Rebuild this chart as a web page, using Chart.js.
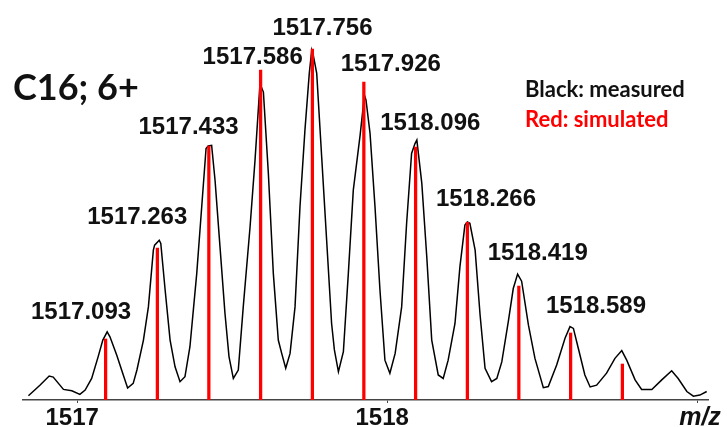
<!DOCTYPE html>
<html>
<head>
<meta charset="utf-8">
<script src="https://cdn.jsdelivr.net/npm/chart.js@4.4.1/dist/chart.umd.min.js"></script>
<style>
  html, body { margin: 0; padding: 0; background: #ffffff; }
  #wrap { width: 727px; height: 427px; }
</style>
</head>
<body>
<div id="wrap"><canvas id="c" width="727" height="427"></canvas></div>
<script>
// Measured profile of the C16 6+ isotope cluster (m/z, relative intensity)
const measuredMz = [1516.841, 1516.878, 1516.908, 1516.921, 1516.954, 1516.981, 1517.007, 1517.024, 1517.045, 1517.066,
  1517.081, 1517.095, 1517.104, 1517.126, 1517.147, 1517.161, 1517.179, 1517.191, 1517.212, 1517.228,
  1517.244, 1517.248, 1517.263, 1517.268, 1517.282, 1517.298, 1517.314, 1517.330, 1517.346, 1517.362,
  1517.384, 1517.400, 1517.414, 1517.421, 1517.432, 1517.443, 1517.459, 1517.475, 1517.488, 1517.502,
  1517.518, 1517.534, 1517.556, 1517.572, 1517.588, 1517.599, 1517.615, 1517.631, 1517.647, 1517.658,
  1517.671, 1517.685, 1517.701, 1517.717, 1517.733, 1517.747, 1517.755, 1517.760, 1517.771, 1517.787,
  1517.803, 1517.819, 1517.828, 1517.841, 1517.857, 1517.873, 1517.889, 1517.911, 1517.925, 1517.930,
  1517.943, 1517.959, 1517.975, 1517.991, 1518.007, 1518.024, 1518.045, 1518.061, 1518.077, 1518.088,
  1518.094, 1518.110, 1518.126, 1518.142, 1518.163, 1518.179, 1518.195, 1518.217, 1518.233, 1518.249,
  1518.257, 1518.265, 1518.282, 1518.298, 1518.314, 1518.335, 1518.352, 1518.368, 1518.389, 1518.405,
  1518.419, 1518.432, 1518.454, 1518.475, 1518.502, 1518.518, 1518.545, 1518.572, 1518.588, 1518.599,
  1518.615, 1518.636, 1518.653, 1518.674, 1518.706, 1518.733, 1518.755, 1518.771, 1518.798, 1518.819,
  1518.852, 1518.884, 1518.916, 1518.937, 1518.965, 1518.986, 1519.007, 1519.029];

const measuredIntensity = [1.2, 4.2, 6.8, 6.5, 3.0, 2.6, 1.6, 2.8, 6.1, 12.3,
  17.0, 19.3, 17.9, 12.7, 7.1, 3.4, 4.7, 8.5, 17.0, 26.4,
  42.5, 43.9, 45.3, 44.4, 31.2, 17.0, 9.4, 5.2, 6.6, 15.1,
  35.9, 54.8, 71.3, 72.0, 72.2, 62.3, 43.4, 24.6, 12.3, 6.1,
  8.5, 26.4, 49.1, 68.0, 89.7, 87.3, 64.2, 35.9, 17.0, 13.2,
  9.0, 13.2, 26.4, 54.8, 76.5, 92.6, 99.2, 97.7, 92.6, 68.9,
  45.3, 21.7, 14.2, 8.0, 13.7, 35.9, 59.5, 75.1, 86.4, 85.0,
  75.6, 54.8, 31.2, 11.3, 7.6, 13.2, 26.4, 50.1, 69.9, 72.7,
  73.7, 61.4, 40.6, 17.0, 7.1, 6.1, 11.3, 21.7, 37.8, 49.6,
  50.5, 50.1, 42.5, 24.1, 9.0, 5.2, 6.1, 10.8, 22.2, 31.6,
  35.7, 33.7, 21.2, 11.8, 3.5, 3.8, 9.9, 17.5, 20.8, 20.3,
  14.6, 7.1, 3.7, 4.2, 7.6, 11.8, 14.0, 11.3, 5.7, 3.0,
  3.0, 5.7, 8.3, 6.1, 2.4, 1.1, 1.4, 2.4];

// Simulated isotope pattern (stick spectrum)
const simulatedMz = [1517.090, 1517.257, 1517.423, 1517.590, 1517.757, 1517.923,
  1518.090, 1518.257, 1518.423, 1518.590, 1518.757];
const simulatedIntensity = [17.3, 43.1, 72.0, 93.5, 99.5, 90.1, 71.7, 50.4, 32.3, 19.0, 10.2];

// Annotated measured peak centroids
const peakLabels = ['1517.093', '1517.263', '1517.433', '1517.586', '1517.756',
  '1517.926', '1518.096', '1518.266', '1518.419', '1518.589'];

// Axis ticks
const tickValues = [1517, 1518, 1519];
const tickLabels = ['1517', '1518', ''];

const measuredPoints = measuredMz.map((x, i) => ({ x: x, y: measuredIntensity[i] }));
const simulatedPoints = simulatedMz.map((x, i) => ({ x: x, y: simulatedIntensity[i] }));

// Placement of each peak label (pixel offset of the text centre from the peak top)
const labelPlacement = [[-25.5, -21.7], [-22, -24.5], [-23.4, -20], [-6.7, -28.3], [10.4, -23.3],
  [26, -33.3], [12.8, -18.3], [15.8, -24.2], [20.1, -22.3], [25.7, -22.2]];

const annotations = {
  id: 'spectrumText',
  afterDraw(chart) {
    const ctx = chart.ctx;
    const xs = chart.scales.x;
    const ys = chart.scales.y;
    ctx.save();

    // peak labels, anchored on the measured maximum next to each value
    ctx.fillStyle = '#111';
    ctx.textAlign = 'center';
    ctx.textBaseline = 'alphabetic';
    ctx.font = 'bold 24px "Liberation Sans", Arial, sans-serif';
    peakLabels.forEach((txt, i) => {
      const v = parseFloat(txt);
      let top = 0;
      measuredMz.forEach((m, j) => {
        if (Math.abs(m - v) <= 0.03 && measuredIntensity[j] > top) top = measuredIntensity[j];
      });
      const px = xs.getPixelForValue(v) + labelPlacement[i][0];
      const py = ys.getPixelForValue(top) + labelPlacement[i][1];
      ctx.fillText(txt, px, py + 8.6);
    });

    // species tag
    ctx.textAlign = 'left';
    ctx.fillStyle = '#111';
    ctx.font = 'bold 36px Lato, "Open Sans", sans-serif';
    ctx.fillText('C16; 6+', 13, 100);

    // key
    ctx.font = 'bold 22px Lato, "Open Sans", sans-serif';
    ctx.fillStyle = '#111';
    ctx.fillText('Black: measured', 525, 97);
    ctx.fillStyle = '#ff0000';
    ctx.fillText('Red: simulated', 525, 127);

    // axis title
    ctx.fillStyle = '#111';
    ctx.textAlign = 'center';
    ctx.font = 'italic bold 25px "Liberation Sans", Arial, sans-serif';
    ctx.fillText('m/z', 700, 425);
    ctx.restore();
  }
};

new Chart(document.getElementById('c'), {
  type: 'line',
  data: {
    datasets: [
      {
        type: 'bar',
        label: 'Red: simulated',
        data: simulatedPoints,
        backgroundColor: '#ff0000',
        borderWidth: 0,
        barThickness: 2.6,
        grouped: false,
        order: 0
      },
      {
        type: 'line',
        label: 'Black: measured',
        data: measuredPoints,
        borderColor: '#000000',
        borderWidth: 1.5,
        pointRadius: 0,
        tension: 0,
        fill: false,
        order: 1
      }
    ]
  },
  options: {
    responsive: false,
    animation: false,
    devicePixelRatio: 1,
    layout: { padding: { left: 23, right: 19, top: 12, bottom: 0 } },
    plugins: { legend: { display: false }, tooltip: { enabled: false } },
    scales: {
      x: {
        type: 'linear',
        offset: false,
        min: 1516.8235,
        max: 1519.0332,
        afterBuildTicks(scale) { scale.ticks = tickValues.map(v => ({ value: v })); },
        afterFit(scale) { scale.height = 27; },
        border: { display: true, color: '#444', width: 1.6 },
        grid: { display: true, offset: false, drawOnChartArea: false, drawTicks: true, tickLength: 3, color: '#444', lineWidth: 1 },
        ticks: {
          autoSkip: false,
          maxRotation: 0,
          padding: 1,
          labelOffset: -5.5,
          color: '#111',
          font: { family: '"Liberation Sans", Arial, sans-serif', size: 24, weight: 'bold', lineHeight: 1.2 },
          callback(value) {
            const k = tickValues.indexOf(value);
            return k >= 0 ? tickLabels[k] : '';
          }
        }
      },
      y: {
        display: false,
        min: 0,
        max: 110
      }
    }
  },
  plugins: [annotations]
});
</script>
</body>
</html>
